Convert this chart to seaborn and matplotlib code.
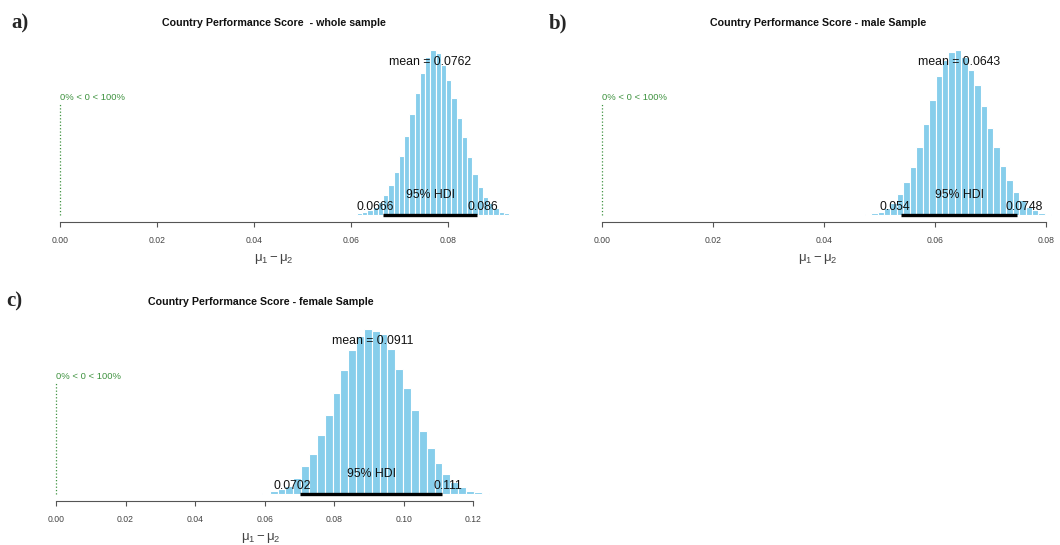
import matplotlib
matplotlib.use("Agg")
import matplotlib.pyplot as plt
import seaborn as sns
import numpy as np
import pandas as pd

# Posterior histograms of mu1 - mu2 (relative bar heights)
titles = ["Country Performance Score  - whole sample",
          "Country Performance Score - male Sample",
          "Country Performance Score - female Sample"]
panel_tags = ["a)", "b)", "c)"]

heights_whole = [1, 2, 3, 5, 8, 12, 18, 26, 36, 48, 61, 74, 86, 96, 100, 98, 91,
                 82, 71, 59, 47, 35, 25, 17, 11, 7, 4, 2, 1]
heights_male = [0.5, 1, 2, 4, 7, 13, 20, 29, 41, 55, 70, 84, 94, 99, 100, 96, 88,
                79, 66, 53, 41, 30, 21, 14, 9, 5, 3, 1.5, 0.7]
heights_female = [0.8, 1.8, 3, 5, 10, 17, 24, 36, 48, 61, 75, 87, 96, 100, 99, 97,
                  88, 76, 64, 51, 38, 28, 19, 12, 7, 4, 2, 1, 0.5]

hist_range = [(0.0612, 0.0926), (0.0474, 0.0810), (0.0592, 0.1246)]
means = [0.0762, 0.0643, 0.0911]
hdi_low = [0.0666, 0.054, 0.0702]
hdi_high = [0.086, 0.0748, 0.111]
hdi_low_txt = ["0.0666", "0.054", "0.0702"]
hdi_high_txt = ["0.086", "0.0748", "0.111"]
tick_max = [0.08, 0.08, 0.12]
all_heights = [heights_whole, heights_male, heights_female]

W, H = 1060, 545
fig = plt.figure(figsize=(W / 100, H / 100), dpi=100)
sns.set_style("white")
plt.rcParams["font.family"] = ["Liberation Sans", "DejaVu Sans"]
plt.rcParams["mathtext.fontset"] = "custom"
plt.rcParams["mathtext.rm"] = "Liberation Sans"
plt.rcParams["mathtext.it"] = "Liberation Sans"

# layout in pixels: left, right, top, bottom of plot region, and x limits
boxes = [(42.9, 504.8, 35, 222, (-0.00353, 0.0917)),
         (584.4, 1051.8, 35, 222, (-0.00312, 0.0811)),
         (39.6, 482.5, 314, 501, (-0.00472, 0.1226))]
tag_pos = [(11, 23), (549, 23), (6, 301)]

green = "#3f9340"
hdi_labels = []

for i in range(3):
    left, right, top, bottom, xl = boxes[i]
    ax = fig.add_axes([left / W, 1 - bottom / H, (right - left) / W, (bottom - top) / H])
    lo, hi = hist_range[i]
    h = all_heights[i]
    edges = np.linspace(lo, hi, len(h) + 1)
    df = pd.DataFrame({"x": (edges[:-1] + edges[1:]) / 2, "w": h})
    sns.histplot(data=df, x="x", weights="w", bins=list(edges), color="skyblue",
                 alpha=1, edgecolor="white", linewidth=0.8, ax=ax)
    for p in ax.patches:
        p.set_clip_on(False)

    ax.set_xlim(*xl)
    ax.set_ylim(-4.24, 109.1)

    # HDI bar and texts
    ax.plot([hdi_low[i], hdi_high[i]], [0, 0], color="black", lw=2.4,
            solid_capstyle="butt", clip_on=False)
    ax.text((hdi_low[i] + hdi_high[i]) / 2, 12, "95% HDI", ha="center", va="center",
            fontsize=8.8, color="#111111")
    t1 = ax.text(hdi_low[i], 1.2, hdi_low_txt[i], ha="left", va="bottom",
                 fontsize=8.8, color="#111111")
    t2 = ax.text(hdi_high[i], 1.2, hdi_high_txt[i], ha="left", va="bottom",
                 fontsize=8.8, color="#111111")
    hdi_labels.append((ax, t1, 0.7))
    hdi_labels.append((ax, t2, 0.3))

    ax.text(means[i], 92.5, "mean = %s" % str(means[i]), ha="center", va="center",
            fontsize=8.8, color="#111111")

    # comparison value
    ax.plot([0, 0], [0, 67], ls=":", color=green, lw=0.9)
    ax.text(0, 71.5, "0% < 0 < 100%", ha="left", va="center", fontsize=6.8, color=green)

    ticks = np.arange(0, tick_max[i] + 1e-9, 0.02)
    ax.set_xticks(ticks)
    ax.set_xticklabels(["%.2f" % t for t in ticks], fontsize=6.2, color="#444444")
    ax.set_yticks([])
    for s in ["top", "right", "left"]:
        ax.spines[s].set_visible(False)
    ax.spines["bottom"].set_bounds(0, tick_max[i])
    ax.spines["bottom"].set_color("#555555")
    ax.spines["bottom"].set_linewidth(0.8)
    ax.tick_params(axis="x", bottom=True, direction="out", length=3.6, width=0.8,
                   color="#555555", pad=6.5)
    ax.set_ylabel("")
    ax.set_xlabel(r"$\mu_1 - \mu_2$", fontsize=9.5, color="#444444", labelpad=5)
    ax.set_title(titles[i], fontsize=7.7, fontweight="bold", pad=6.5, color="#111111")

    tx, ty = tag_pos[i]
    fig.text(tx / W, 1 - ty / H, panel_tags[i], fontsize=15, fontweight="bold",
             family="Liberation Serif", ha="left", va="center")

# R-style fractional horizontal adjustment of the HDI end labels
fig.canvas.draw()
r = fig.canvas.get_renderer()
for ax, t, frac in hdi_labels:
    bb = t.get_window_extent(r)
    x0, y0 = t.get_position()
    disp = ax.transData.transform((x0, y0))
    new = ax.transData.inverted().transform((disp[0] - frac * bb.width, disp[1]))
    t.set_position((new[0], y0))

fig.savefig("out.png", dpi=100, facecolor="white")
